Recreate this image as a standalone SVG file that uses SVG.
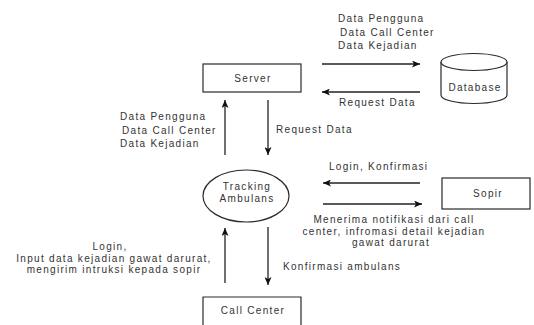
<svg xmlns="http://www.w3.org/2000/svg" width="534" height="325" viewBox="0 0 534 325">
  <defs>
    <marker id="arrow" viewBox="0 0 8 7" refX="8" refY="3.5" markerWidth="8" markerHeight="7" markerUnits="userSpaceOnUse" orient="auto">
      <path d="M0,0 L8,3.5 L0,7 L2,3.5 z" fill="#111"/>
    </marker>
    <style>
      .box { fill: #ffffff; stroke: #2a2a2a; stroke-width: 1.2; }
      .edge { fill: none; stroke: #222; stroke-width: 1.3; marker-end: url(#arrow); }
      text { font-family: "Liberation Sans", Arial, sans-serif; font-size: 10px; letter-spacing: 1.3px; fill: #333; }
      .c { text-anchor: middle; }
    </style>
  </defs>

  <rect width="534" height="325" fill="#ffffff"/>

  <!-- Server -->
  <g id="server">
    <rect class="box" x="203" y="64" width="98" height="28"/>
    <text class="c" x="253" y="82">Server</text>
  </g>

  <!-- Database -->
  <g id="database">
    <path class="box" d="M441,62 a33,8.5 0 0,1 66,0 v33 a33,8.5 0 0,1 -66,0 z"/>
    <path class="box" fill="none" d="M441,62 a33,8.5 0 0,0 66,0"/>
    <text class="c" x="475" y="91">Database</text>
  </g>

  <!-- Tracking Ambulans process -->
  <g id="tracking">
    <ellipse class="box" cx="246" cy="196" rx="43" ry="26"/>
    <text class="c" x="247" y="190">Tracking</text>
    <text class="c" x="247" y="202">Ambulans</text>
  </g>

  <!-- Sopir -->
  <g id="sopir">
    <rect class="box" x="442" y="178" width="88" height="31"/>
    <text class="c" x="488" y="197">Sopir</text>
  </g>

  <!-- Call Center -->
  <g id="callcenter">
    <path class="box" d="M203,340 V297 H301 V340"/>
    <text class="c" x="253" y="314">Call Center</text>
  </g>

  <!-- Data flows -->
  <g id="connectors">
    <line class="edge" x1="322" y1="64" x2="420" y2="64"/>
    <line class="edge" x1="420" y1="92" x2="322" y2="92"/>
    <line class="edge" x1="225" y1="155" x2="225" y2="100"/>
    <line class="edge" x1="268" y1="100" x2="268" y2="155"/>
    <line class="edge" x1="420" y1="183" x2="323" y2="183"/>
    <line class="edge" x1="323" y1="204" x2="422" y2="204"/>
    <line class="edge" x1="225" y1="283" x2="225" y2="228"/>
    <line class="edge" x1="268" y1="227" x2="268" y2="285"/>

    <text x="338" y="22">Data Pengguna</text>
    <text x="340" y="36">Data Call Center</text>
    <text x="338" y="49">Data Kejadian</text>
    <text x="339" y="106">Request Data</text>

    <text x="120" y="120">Data Pengguna</text>
    <text x="122" y="134">Data Call Center</text>
    <text x="120" y="147">Data Kejadian</text>
    <text x="276" y="133">Request Data</text>

    <text x="329" y="170">Login, Konfirmasi</text>
    <text class="c" x="394" y="223">Menerima notifikasi dari call</text>
    <text class="c" x="394" y="234.5">center, infromasi detail kejadian</text>
    <text class="c" x="391" y="246">gawat darurat</text>

    <text class="c" x="110" y="250">Login,</text>
    <text class="c" x="114" y="261.5">Input data kejadian gawat darurat,</text>
    <text class="c" x="114" y="273">mengirim intruksi kepada sopir</text>
    <text x="283" y="270">Konfirmasi ambulans</text>
  </g>
</svg>
